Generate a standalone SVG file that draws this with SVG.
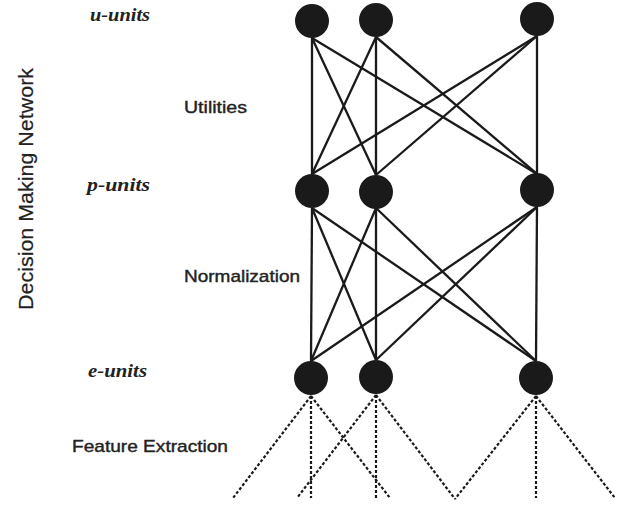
<svg xmlns="http://www.w3.org/2000/svg" width="626" height="505" viewBox="0 0 626 505">
<style>
.node{fill:#1a1a1a}
.edge{stroke:#1a1a1a;stroke-width:2.3;fill:none}
.dash{stroke:#1a1a1a;stroke-width:2.2;fill:none;stroke-dasharray:3 2}
.unit{font-family:"Liberation Serif",serif;font-style:italic;font-weight:bold;font-size:19px;fill:#222}
.lbl{font-family:"Liberation Sans",Arial,sans-serif;font-size:17px;fill:#222;stroke:#222;stroke-width:0.4}
</style>
<rect width="626" height="505" fill="#fff"/>
<g id="connectors">
<line class="edge" x1="312" y1="38" x2="312" y2="174"/>
<line class="edge" x1="312" y1="38" x2="376" y2="175"/>
<line class="edge" x1="312" y1="38" x2="537" y2="174"/>
<line class="edge" x1="376" y1="37" x2="312" y2="174"/>
<line class="edge" x1="376" y1="37" x2="376" y2="175"/>
<line class="edge" x1="376" y1="37" x2="537" y2="174"/>
<line class="edge" x1="537" y1="36" x2="312" y2="174"/>
<line class="edge" x1="537" y1="36" x2="376" y2="175"/>
<line class="edge" x1="537" y1="36" x2="537" y2="174"/>
<line class="edge" x1="312" y1="208" x2="311" y2="361"/>
<line class="edge" x1="312" y1="208" x2="376" y2="360"/>
<line class="edge" x1="312" y1="208" x2="536" y2="361"/>
<line class="edge" x1="376" y1="208" x2="311" y2="361"/>
<line class="edge" x1="376" y1="208" x2="376" y2="360"/>
<line class="edge" x1="376" y1="208" x2="536" y2="361"/>
<line class="edge" x1="537" y1="207" x2="311" y2="361"/>
<line class="edge" x1="537" y1="207" x2="376" y2="360"/>
<line class="edge" x1="537" y1="207" x2="536" y2="361"/>
<line class="dash" x1="311" y1="396" x2="233" y2="498"/>
<line class="dash" x1="311" y1="396" x2="311" y2="498"/>
<line class="dash" x1="311" y1="396" x2="390" y2="498"/>
<line class="dash" x1="376" y1="395" x2="297" y2="498"/>
<line class="dash" x1="376" y1="395" x2="376" y2="498"/>
<line class="dash" x1="376" y1="395" x2="455" y2="499"/>
<line class="dash" x1="536" y1="396" x2="455" y2="499"/>
<line class="dash" x1="536" y1="396" x2="536" y2="498"/>
<line class="dash" x1="536" y1="396" x2="615" y2="498"/>
</g>
<g id="u1"><circle class="node" cx="312" cy="21" r="17"/></g>
<g id="u2"><circle class="node" cx="376" cy="20" r="17"/></g>
<g id="u3"><circle class="node" cx="537" cy="19" r="17"/></g>
<g id="p1"><circle class="node" cx="312" cy="191" r="17"/></g>
<g id="p2"><circle class="node" cx="376" cy="192" r="17"/></g>
<g id="p3"><circle class="node" cx="537" cy="190" r="17"/></g>
<g id="e1"><circle class="node" cx="311" cy="378" r="17"/></g>
<g id="e2"><circle class="node" cx="376" cy="377" r="17"/></g>
<g id="e3"><circle class="node" cx="536" cy="378" r="17"/></g>
<g id="labels">
<text class="unit" x="90" y="21" textLength="60" lengthAdjust="spacingAndGlyphs">u-units</text>
<text class="unit" x="87" y="191" textLength="63" lengthAdjust="spacingAndGlyphs">p-units</text>
<text class="unit" x="88" y="377" textLength="59" lengthAdjust="spacingAndGlyphs">e-units</text>
<text class="lbl" x="184" y="113" textLength="63" lengthAdjust="spacingAndGlyphs">Utilities</text>
<text class="lbl" x="184" y="282" textLength="116" lengthAdjust="spacingAndGlyphs">Normalization</text>
<text class="lbl" x="72" y="452" textLength="156" lengthAdjust="spacingAndGlyphs">Feature Extraction</text>
<text class="lbl" style="font-size:21px;stroke-width:0.2" transform="translate(33,310) rotate(-90)" x="0" y="0" textLength="242" lengthAdjust="spacingAndGlyphs">Decision Making Network</text>
</g>
</svg>
